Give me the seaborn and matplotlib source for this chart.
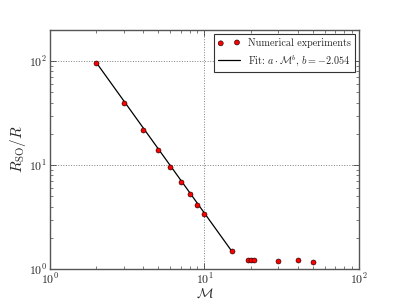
import matplotlib
matplotlib.use("Agg")
import matplotlib.pyplot as plt
import seaborn as sns
import pandas as pd

mach = [2, 3, 4, 5, 6, 7, 8, 9, 10, 15, 19, 20, 21, 30, 40, 50]
r_so = [96.6, 39.8, 21.7, 13.9, 9.57, 6.95, 5.28, 4.17, 3.38, 1.48,
        1.21, 1.21, 1.21, 1.195, 1.23, 1.18]
fit_mach = [2, 15]
fit_r = [96.6, 1.49]
fit_b = -2.054

sns.set_style("white")
plt.rcParams["font.family"] = ["cmr10", "DejaVu Serif"]
plt.rcParams["mathtext.fontset"] = "cm"
plt.rcParams["axes.formatter.use_mathtext"] = True

experiments = pd.DataFrame({"M": mach, "R": r_so})
fit = pd.DataFrame({"M": fit_mach, "R": fit_r})

fig, ax = plt.subplots(figsize=(3.99, 2.99), dpi=100)
fig.subplots_adjust(left=0.125, right=0.9, bottom=0.1, top=0.9)

sns.scatterplot(data=experiments, x="M", y="R", ax=ax, color="red",
                edgecolor="black", linewidth=0.4, s=13, zorder=3,
                label="Numerical experiments")
sns.lineplot(data=fit, x="M", y="R", ax=ax, color="black", linewidth=0.9,
             zorder=2, label=r"Fit: $a\cdot\mathcal{M}^b$, $b=%.3f$" % fit_b)

ax.set_xscale("log")
ax.set_yscale("log")
ax.set_xlim(1, 100)
ax.set_ylim(1, 200)
ax.set_xlabel(r"$\mathcal{M}$", fontsize=10, labelpad=0)
ax.set_ylabel(r"$R_{\rm SO}/R$", fontsize=11, labelpad=1)

ax.grid(True, which="major", linestyle=":", color="gray", linewidth=0.7)
ax.tick_params(which="both", direction="in", top=True, right=True,
               bottom=True, left=True, labelsize=8.5, color="#444444", pad=2)
ax.tick_params(which="major", length=4, width=0.6)
ax.tick_params(which="minor", length=2, width=0.5)
for sp in ax.spines.values():
    sp.set_color("#555555")
    sp.set_linewidth(1.0)

leg = ax.legend(loc="upper right", fontsize=7.3, fancybox=False,
                edgecolor="#333333", framealpha=1, scatterpoints=2,
                borderaxespad=0.4, handlelength=2.2)
leg.get_frame().set_linewidth(0.8)

fig.savefig("out.png", dpi=100)
